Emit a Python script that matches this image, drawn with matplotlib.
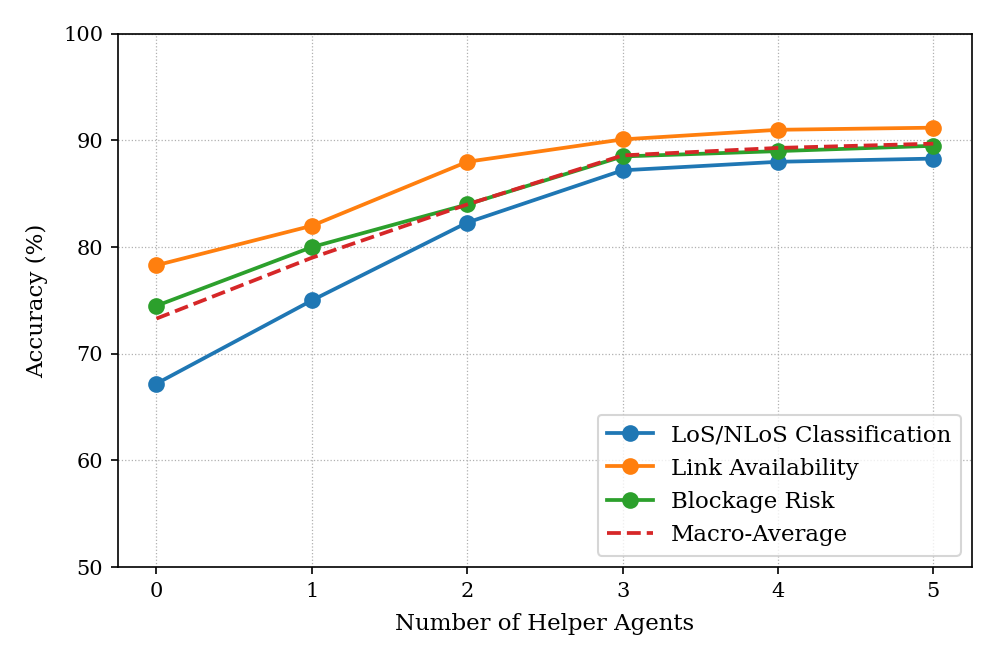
import numpy as np
import matplotlib
matplotlib.use('Agg')
import matplotlib.pyplot as plt

plt.rcParams['font.family'] = 'DejaVu Serif'

agents = [0, 1, 2, 3, 4, 5]
los_nlos = [67.2, 75.0, 82.3, 87.2, 88.0, 88.3]
link_avail = [78.3, 82.0, 88.0, 90.1, 91.0, 91.2]
blockage = [74.5, 80.0, 84.0, 88.5, 89.0, 89.5]
macro_avg = [73.3, 79.0, 84.0, 88.6, 89.3, 89.7]

fig, ax = plt.subplots(figsize=(6.647, 4.427), dpi=150)

ax.plot(agents, los_nlos, '-o', color='#1f77b4', lw=1.8, ms=7, label='LoS/NLoS Classification')
ax.plot(agents, link_avail, '-o', color='#ff7f0e', lw=1.8, ms=7, label='Link Availability')
ax.plot(agents, blockage, '-o', color='#2ca02c', lw=1.8, ms=7, label='Blockage Risk')
ax.plot(agents, macro_avg, '--', color='#d62728', lw=1.8, label='Macro-Average')

ax.set_xlabel('Number of Helper Agents', fontsize=11, labelpad=6)
ax.set_ylabel('Accuracy (%)', fontsize=11, labelpad=7)
ax.set_ylim(50, 100)
ax.set_xticks(agents)
ax.tick_params(labelsize=10)
ax.grid(True, linestyle=':', linewidth=0.6, color='#b0b0b0')
ax.legend(loc='lower right', fontsize=11)

fig.subplots_adjust(left=0.118, right=0.975, top=0.949, bottom=0.146)
fig.savefig('out.png', dpi=150)
